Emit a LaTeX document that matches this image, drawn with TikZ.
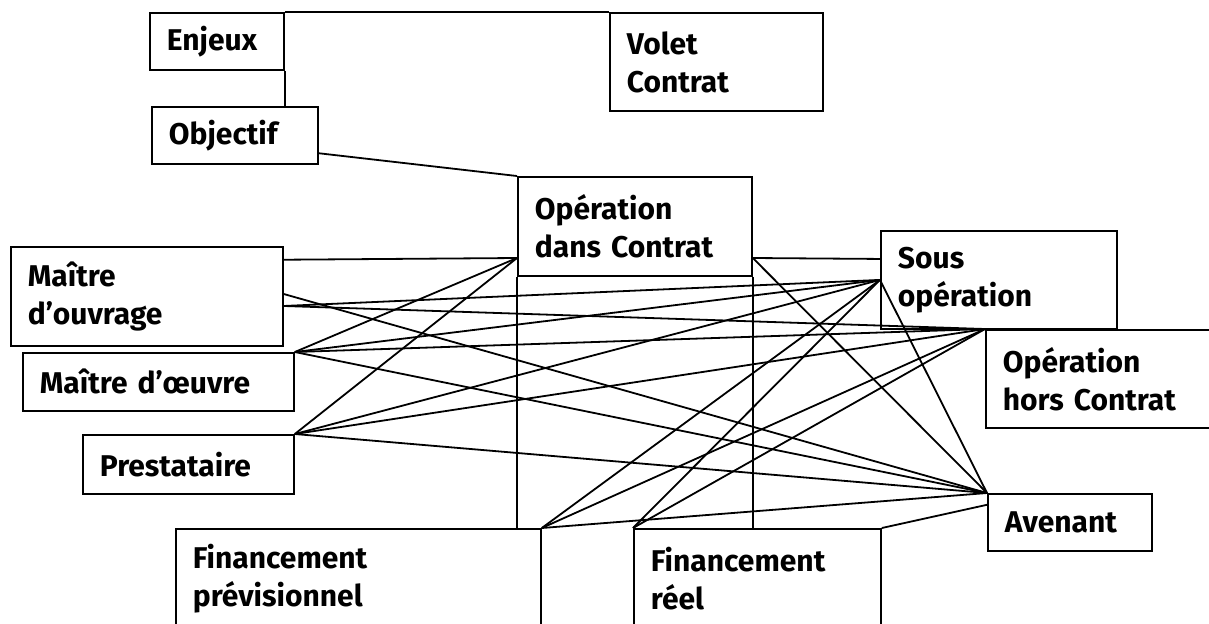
\documentclass[tikz,border=0pt]{standalone}
\usepackage{fontspec}
\setmainfont{Fira Sans}
\usepackage{tikz}

\begin{document}
\begin{tikzpicture}[x=0.5pt,y=-0.5pt,line width=0.9pt,every node/.style={shape=rectangle,draw,line width=0.9pt,anchor=north west,align=left,inner xsep=8.5pt,inner ysep=0pt,font=\bfseries\fontsize{15}{19}\selectfont},]
	\useasboundingbox (0,0) rectangle (1209,623);
	% create boxes
	\node (enjeux) at (149,12) [text width=50pt,minimum height=28.5pt] {Enjeux};
	\node (volet) at (609,12) [text width=89.5pt,minimum height=49pt] {Volet\\Contrat};
	\node (objectif) at (151,106) [text width=66pt,minimum height=28.5pt] {Objectif};
	\node (op) at (517,176) [text width=100pt,minimum height=49.5pt] {Opération\\dans Contrat};
	\node (ouvrage) at (10,246) [text width=119pt,minimum height=49.5pt] {Maître\\d’ouvrage};
	\node (oeuvre) at (22,352) [text width=118.5pt,minimum height=29pt] {Maître d’œuvre};
	\node (prest) at (82,434) [text width=88.5pt,minimum height=29.5pt] {Prestataire};
	\node (sous) at (880,230) [text width=101pt,minimum height=49pt] {Sous\\opération};
	\node (hors) at (985,329) [text width=110.5pt,minimum height=49pt] {Opération\\hors Contrat};
	\node (avenant) at (987,493) [text width=65pt,minimum height=28.5pt] {Avenant};
	\node (prev) at (175,528) [text width=165.5pt,minimum height=50pt] {Financement\\prévisionnel};
	\node (reel) at (633,528) [text width=106.5pt,minimum height=50pt] {Financement\\réel};

	% top of the tree
	\draw (enjeux.north east) -- (volet.north west);
	\draw (enjeux.south east) -- (enjeux.south east |- objectif.north);
	\draw (objectif.-12.6) -- (op.north west);

	% links towards Opération dans Contrat
	\draw (ouvrage.15.4) -- (op.195.5);
	\draw (oeuvre.north east) -- (op.195.5);
	\draw (prest.north east) -- (op.195.5);
	\draw (op.-15.5) -- (sous.170);
	\draw (op.south west) -- (op.south west |- prev.north);
	\draw (op.south east) -- (op.south east |- reel.north);

	% links towards Sous opération
	\draw (ouvrage.-4.4) -- (sous.west);
	\draw (oeuvre.north east) -- (sous.west);
	\draw (prest.north east) -- (sous.west);
	\draw (prev.north east) -- (sous.west);
	\draw (reel.north west) -- (sous.west);

	% links towards Opération hors Contrat
	\draw (ouvrage.-4.4) -- (hors.north west);
	\draw (oeuvre.north east) -- (hors.north west);
	\draw (prest.north east) -- (hors.north west);
	\draw (prev.north east) -- (hors.north west);
	\draw (reel.north west) -- (hors.north west);

	% links towards Avenant
	\draw (ouvrage.1) -- (avenant.north west);
	\draw (oeuvre.north east) -- (avenant.north west);
	\draw (prest.north east) -- (avenant.north west);
	\draw (op.-15.5) -- (avenant.north west);
	\draw (sous.west) -- (avenant.north west);
	\draw (prev.north east) -- (avenant.north west);
	\draw (reel.north east) -- (avenant.168.6);

\end{tikzpicture}
\end{document}
